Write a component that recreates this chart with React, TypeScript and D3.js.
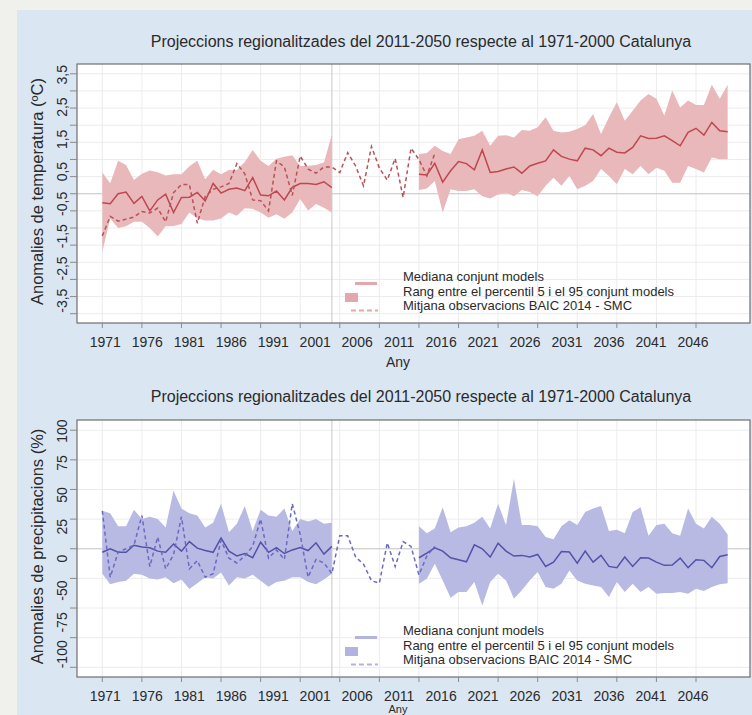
import React from 'react';
import * as d3 from 'd3';

const TITLE = 'Projeccions regionalitzades del 2011-2050 respecte al 1971-2000 Catalunya';
const X_TITLE = 'Any';
const xTickYears = [1971, 1976, 1981, 1986, 1991, 1996, 2001, 2006, 2011, 2016, 2021, 2026, 2031, 2036, 2041, 2046];
const xTickLabels = ['1971', '1976', '1981', '1986', '1991', '2001', '2006', '2011', '2016', '2021', '2026', '2031', '2036', '2041', '2046'];
const tempTickValues = [3.5, 3, 2.5, 2, 1.5, 1, 0.5, 0, -0.5, -1, -1.5, -2, -2.5, -3, -3.5];
const tempTickLabels = ['3,5', '2,5', '1,5', '0,5', '-0,5', '-1,5', '-2,5', '-3,5'];
const precTickValues = [100, 75, 50, 25, 0, -25, -50, -75, -100];
const precTickLabels = ['100', '75', '50', '25', '0', '-50', '-75', '-100'];
const legendLabels = [
  'Mediana conjunt models',
  'Rang entre el percentil 5 i el 95 conjunt models',
  'Mitjana observacions BAIC 2014 - SMC',
];

const HIST_START = 1971;
const PROJ_START = 2011;
const OBS_START = 1971;
const SPLIT_YEAR = 2000;

// Temperature (ºC)
const tempHistMedian = [-0.26, -0.29, 0.0, 0.05, -0.28, -0.08, -0.5, -0.18, -0.01, -0.55, -0.11, -0.1, 0.04, -0.21, 0.3, 0.02, 0.13, 0.17, 0.09, 0.47, -0.04, -0.06, 0.08, -0.18, 0.19, 0.3, 0.3, 0.27, 0.35, 0.18];
const tempHistHigh = [0.62, 0.31, 0.96, 0.84, 0.4, 0.58, 0.68, 0.63, 0.53, 0.57, 0.57, 0.8, 0.96, 0.42, 0.7, 0.57, 0.69, 0.69, 0.93, 1.28, 0.96, 0.81, 1.02, 1.08, 1.12, 0.81, 0.82, 0.84, 0.91, 1.72];
const tempHistLow = [-1.7, -0.72, -1.0, -0.95, -0.82, -0.82, -1.0, -1.25, -0.95, -0.94, -0.88, -0.55, -0.72, -0.78, -0.78, -0.72, -0.55, -0.64, -0.42, -0.44, -0.55, -0.7, -0.6, -0.73, -0.55, -0.15, -0.49, -0.3, -0.41, -0.55];
const tempObs = [-1.23, -0.66, -0.8, -0.74, -0.68, -0.52, -0.56, -0.42, -0.82, 0.03, 0.27, 0.27, -0.86, -0.08, 0.13, 0.2, 0.3, 0.88, 0.58, -0.18, -0.2, -0.5, 0.96, 0.78, -0.05, 1.1, 0.72, 0.6, 0.78, 0.78, 0.62, 1.2, 0.81, 0.23, 1.38, 0.75, 0.4, 1.03, -0.11, 1.33, 1.0, 0.52, 1.18];
const tempProjMedian = [0.57, 0.55, 0.89, 0.34, 0.67, 0.94, 0.88, 0.7, 1.28, 0.62, 0.65, 0.72, 0.78, 0.6, 0.81, 0.89, 0.96, 1.28, 1.09, 1.01, 0.96, 1.33, 1.28, 1.11, 1.33, 1.21, 1.19, 1.35, 1.69, 1.61, 1.62, 1.69, 1.55, 1.4, 1.79, 1.91, 1.71, 2.08, 1.84, 1.81];
const tempProjHigh = [1.16, 1.19, 1.4, 1.25, 1.16, 1.59, 1.64, 1.69, 1.84, 1.4, 1.69, 1.71, 1.64, 1.86, 1.84, 1.94, 2.23, 1.84, 1.79, 1.81, 1.89, 2.0, 2.33, 1.74, 2.23, 2.67, 2.13, 2.42, 2.72, 2.91, 2.77, 2.28, 3.01, 2.52, 2.72, 2.59, 2.59, 3.18, 2.77, 3.18];
const tempProjLow = [0.11, 0.15, 0.37, -0.55, 0.13, 0.08, 0.08, 0.13, -0.07, -0.14, -0.02, 0.03, -0.07, 0.11, 0.05, -0.07, 0.23, 0.47, 0.23, 0.52, 0.13, 0.23, 0.37, 0.72, 0.52, 0.28, 0.72, 0.57, 0.81, 0.57, 0.76, 0.67, 0.32, 0.32, 0.81, 0.72, 0.62, 1.06, 1.01, 1.01];

// Precipitation (%)
const precHistMedian = [-3, 0, -3, -3, 3, 1.5, 0.8, -2, -3, 4, -2, 6, 0.5, -1.5, -3, 9, -2, -6, -4, -7.5, 5.5, -3, 1, -4, -1, 1, -1.5, 5, -4.5, 2];
const precHistHigh = [32, 30, 19, 19, 33, 25, 27, 25, 18, 49, 34, 30, 28, 18, 22, 38, 14, 21, 36, 15, 33, 28, 27, 34, 15, 25, 23, 25, 21, 22];
const precHistLow = [-21, -30, -28, -27, -21, -22, -25, -26, -24, -29, -26, -34, -29, -24, -25, -20, -31, -24, -25, -22, -27, -32, -28, -27, -24, -24, -28, -30, -26, -21];
const precObs = [32, -24, -3, 0, 3, 28, -15, 10, -17, -5, 27, -17, -10, -24, -21, 7, -8, -12, -6, 2, 25, -8, -1, -9, 38, 12, -24, -9, -12, -21, 11, 11, -7, -13, -27, -29, 5, -15, 6, 2, -22, -6, 2];
const precProjMedian = [-7.6, -3.7, 0.8, -2, -7.6, -9.3, -11, 3.3, 0, -7, 4.7, -2, -6.2, -5.6, -7, -4.8, -14.9, -11.3, -2.3, -2.8, -12.1, -2, -11.3, -5.6, -14.9, -16, -7, -14.9, -7.6, -7.9, -11.3, -14, -13.8, -7.9, -16, -9.3, -9.8, -16, -6.5, -5.1];
const precProjHigh = [19, 13, 17, 35, 14, 18, 19, 22, 27, 17, 38, 20, 59, 20, 20, 19, 10, 8, 19, 24, 20, 31, 34, 36, 15, 16, 13, 31, 35, 11, 20, 21, 13, 11, 34, 21, 17, 27, 21, 12];
const precProjLow = [-29.5, -25.3, -12.6, -26.7, -41.3, -36.5, -36.5, -28.1, -47.8, -28.1, -21, -26.7, -42.1, -35.1, -26.7, -19.7, -32.3, -33.7, -29.5, -18.3, -26.7, -29.5, -30.9, -32.3, -40.7, -28.1, -36.5, -29.5, -36.5, -32.3, -37.9, -37.4, -37.4, -36.5, -37.9, -33.7, -35.7, -32.3, -30, -29];

const FONT = '"Liberation Sans", Arial, Helvetica, sans-serif';
const W = 752;
const H = 715;

type Pt = { year: number; v: number };
type BandPt = { year: number; lo: number; hi: number };

const toPts = (start: number, vals: number[]): Pt[] => vals.map((v, i) => ({ year: start + i, v }));
const toBand = (start: number, lo: number[], hi: number[]): BandPt[] =>
  lo.map((l, i) => ({ year: start + i, lo: l, hi: hi[i] }));

interface PanelProps {
  top: number;
  bottom: number;
  titleY: number;
  xTitleY: number;
  xTitleSize: number;
  yDomain: [number, number];
  yPad: number;
  yTickValues: number[];
  yTickLabels: string[];
  yTitle: string;
  histMedian: number[];
  histLow: number[];
  histHigh: number[];
  projMedian: number[];
  projLow: number[];
  projHigh: number[];
  obs: number[];
  bandColor: string;
  lineColor: string;
  obsColor: string;
  legendColor: string;
}

const PLOT_LEFT = 77;
const PLOT_RIGHT = 750;

function Panel(p: PanelProps) {
  const x = d3.scaleLinear().domain([1971, 2046]).range([102.3, 696]);
  const y = d3.scaleLinear().domain(p.yDomain).range([p.bottom - p.yPad, p.top + p.yPad + 0.5]);
  const xLab = d3.scalePoint<string>().domain(xTickLabels).range([x(1971) + 3, x(2046) - 3]);
  const yLab = d3
    .scalePoint<string>()
    .domain(p.yTickLabels)
    .range([y(p.yDomain[1]) + 1, y(p.yDomain[0]) - 13]);

  const area = d3
    .area<BandPt>()
    .x((d) => x(d.year))
    .y0((d) => y(d.lo))
    .y1((d) => y(d.hi));
  const line = d3
    .line<Pt>()
    .x((d) => x(d.year))
    .y((d) => y(d.v));

  const histBand = toBand(HIST_START, p.histLow, p.histHigh);
  const projBand = toBand(PROJ_START, p.projLow, p.projHigh);

  const lgY = p.bottom;
  return (
    <g>
      <text x={421} y={p.titleY} textAnchor="middle" fontSize={16} fill="#2a2a2a" fontFamily={FONT}>
        {TITLE}
      </text>
      <rect x={PLOT_LEFT} y={p.top} width={PLOT_RIGHT - PLOT_LEFT} height={p.bottom - p.top} fill="#ffffff" />
      {xTickYears.map((yr) => (
        <line key={'gx' + yr} x1={x(yr)} x2={x(yr)} y1={p.top} y2={p.bottom} stroke="#ececec" strokeWidth={1} />
      ))}
      {p.yTickValues.map((v) => (
        <line key={'gy' + v} x1={PLOT_LEFT} x2={PLOT_RIGHT} y1={y(v)} y2={y(v)} stroke="#ececec" strokeWidth={1} />
      ))}
      <line x1={PLOT_LEFT} x2={PLOT_RIGHT} y1={y(0)} y2={y(0)} stroke="#c9c9c9" strokeWidth={1.2} />
      <line x1={x(SPLIT_YEAR)} x2={x(SPLIT_YEAR)} y1={p.top} y2={p.bottom} stroke="#d0d0d0" strokeWidth={1.2} />
      <path d={area(histBand) || ''} fill={p.bandColor} />
      <path d={area(projBand) || ''} fill={p.bandColor} />
      <path d={line(toPts(HIST_START, p.histMedian)) || ''} fill="none" stroke={p.lineColor} strokeWidth={1.5} />
      <path d={line(toPts(PROJ_START, p.projMedian)) || ''} fill="none" stroke={p.lineColor} strokeWidth={1.5} />
      <path
        d={line(toPts(OBS_START, p.obs)) || ''}
        fill="none"
        stroke={p.obsColor}
        strokeWidth={1.5}
        strokeDasharray="4,3"
      />
      <rect
        x={PLOT_LEFT}
        y={p.top}
        width={PLOT_RIGHT - PLOT_LEFT}
        height={p.bottom - p.top}
        fill="none"
        stroke="#6f6f6f"
        strokeWidth={1.2}
      />
      {xTickYears.map((yr) => (
        <line key={'tx' + yr} x1={x(yr)} x2={x(yr)} y1={p.bottom} y2={p.bottom + 5} stroke="#8a8a8a" strokeWidth={1} />
      ))}
      {xTickLabels.map((l) => (
        <text key={'lx' + l} x={xLab(l)} y={p.bottom + 24} textAnchor="middle" fontSize={14} fill="#2a2a2a" fontFamily={FONT}>
          {l}
        </text>
      ))}
      <text x={398} y={p.xTitleY} textAnchor="middle" fontSize={p.xTitleSize} fill="#2a2a2a" fontFamily={FONT}>
        {X_TITLE}
      </text>
      {p.yTickValues.map((v) => (
        <line key={'ty' + v} x1={PLOT_LEFT - 7} x2={PLOT_LEFT} y1={y(v)} y2={y(v)} stroke="#8a8a8a" strokeWidth={1} />
      ))}
      {p.yTickLabels.map((l) => (
        <text
          key={'ly' + l}
          transform={`translate(67,${yLab(l)}) rotate(-90)`}
          textAnchor="middle"
          fontSize={14}
          fill="#2a2a2a"
          fontFamily={FONT}
        >
          {l}
        </text>
      ))}
      <text
        transform={`translate(43,${(p.top + p.bottom) / 2 - 2}) rotate(-90)`}
        textAnchor="middle"
        fontSize={16.5}
        fill="#2a2a2a"
        fontFamily={FONT}
      >
        {p.yTitle}
      </text>
      <line x1={355} x2={377} y1={lgY - 39.5} y2={lgY - 39.5} stroke={p.legendColor} strokeWidth={3} />
      <rect x={345} y={lgY - 30} width={13} height={9} fill={p.legendColor} />
      <line
        x1={351}
        x2={378}
        y1={lgY - 12.5}
        y2={lgY - 12.5}
        stroke={p.legendColor}
        strokeWidth={2}
        strokeDasharray="5,3"
      />
      {legendLabels.map((l, i) => (
        <text key={'lg' + i} x={403} y={lgY - 42 + i * 14.5} fontSize={13} fill="#2a2a2a" fontFamily={FONT}>
          {l}
        </text>
      ))}
    </g>
  );
}

export default function App() {
  return (
    <div style={{ position: 'absolute', left: 0, top: 0, width: W, height: H, overflow: 'hidden' }}>
      <svg width={W} height={H} viewBox={`0 0 ${W} ${H}`} style={{ display: 'block' }}>
        <rect x={0} y={0} width={W} height={H} fill="#f0f1ec" />
        <rect x={17} y={10} width={W - 17} height={H - 10} fill="#dbe6f3" />
        <Panel
          top={64}
          bottom={323}
          titleY={46.5}
          xTitleY={367}
          xTitleSize={14}
          yDomain={[-3.5, 3.5]}
          yPad={9.3}
          yTickValues={tempTickValues}
          yTickLabels={tempTickLabels}
          yTitle="Anomalies de temperatura (ºC)"
          histMedian={tempHistMedian}
          histLow={tempHistLow}
          histHigh={tempHistHigh}
          projMedian={tempProjMedian}
          projLow={tempProjLow}
          projHigh={tempProjHigh}
          obs={tempObs}
          bandColor="#e9b8bb"
          lineColor="#c0464f"
          obsColor="#b8525a"
          legendColor="#e4a8ac"
        />
        <Panel
          top={420}
          bottom={677}
          titleY={401.5}
          xTitleY={713}
          xTitleSize={11}
          yDomain={[-100, 100]}
          yPad={9.7}
          yTickValues={precTickValues}
          yTickLabels={precTickLabels}
          yTitle="Anomalies de precipitacions (%)"
          histMedian={precHistMedian}
          histLow={precHistLow}
          histHigh={precHistHigh}
          projMedian={precProjMedian}
          projLow={precProjLow}
          projHigh={precProjHigh}
          obs={precObs}
          bandColor="#b9bae4"
          lineColor="#5252a8"
          obsColor="#6a6ac2"
          legendColor="#b3b3e3"
        />
      </svg>
    </div>
  );
}
